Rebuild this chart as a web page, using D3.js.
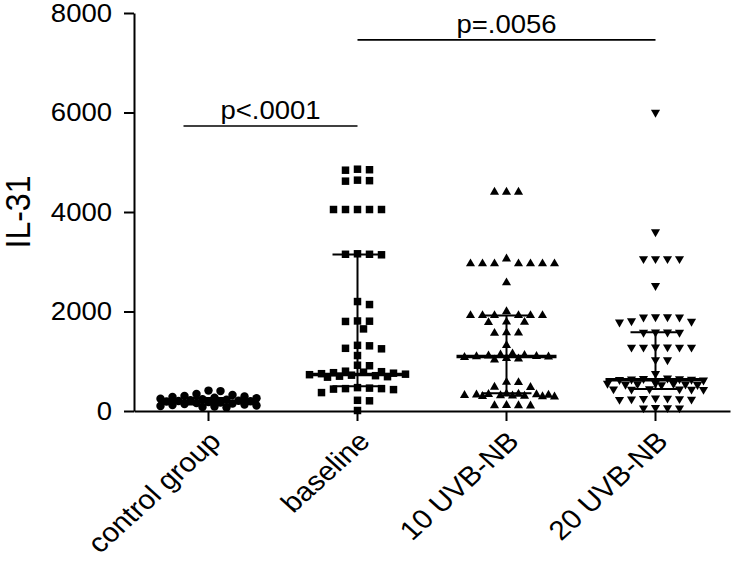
<!DOCTYPE html>
<html>
<head>
<meta charset="utf-8">
<script src="https://cdn.jsdelivr.net/npm/d3@7"></script>
<style>
  body { margin: 0; background: #fff; }
  text { font-family: "Liberation Sans", Arial, Helvetica, sans-serif; fill: #000; }
</style>
</head>
<body>
<svg id="chart" width="734" height="568"></svg>
<script>
// ---- data ----
var categories = ["control group", "baseline", "10 UVB-NB", "20 UVB-NB"];

var controlValues = [410, 400, 340, 320, 300, 290, 280, 265, 255, 245, 235, 225, 215, 205,
                     200, 195, 190, 180, 170, 160, 150, 140, 130, 120, 110, 100, 90, 80, 70];

var baselineValues = [4860, 4850, 4840, 4640, 4630, 4620, 4050, 4050, 4050, 4050, 4050,
                      3160, 3150, 3150, 3140, 2200, 2140, 1810, 1805, 1800, 1650,
                      1320, 1310, 1260, 1250, 1115, 920, 910,
                      800, 790, 780, 770, 760, 750, 740, 730, 720, 710, 700, 690, 680,
                      470, 460, 450, 450, 440, 430, 370, 215, 205, 10];

var uvb10Values = [4400, 4400, 4400, 3060, 2960, 2960, 2960, 2960, 2960, 2960, 2960, 2580,
                   2000, 1920, 1920, 1920, 1920, 1920, 1920, 1790, 1785, 1780, 1575, 1570, 1565, 1320,
                   1150, 1130, 1120, 1110, 1100, 1095, 1090, 1080, 1060, 1050, 1030,
                   580, 575, 480, 475,
                   345, 340, 335, 330, 325, 320, 315, 310, 305, 300, 295, 290, 285,
                   115, 110, 110, 105];

var uvb20Values = [6000, 3600, 3060, 3060, 3060, 3060, 2520,
                   1890, 1890, 1885, 1885, 1810, 1800, 1785, 1585, 1585, 1580, 1580,
                   1285, 1285, 1280, 1280, 1280, 1280, 1030, 1025, 750,
                   660, 650, 645, 640, 635, 630, 620,
                   560, 555, 550, 545, 540, 535, 530, 525,
                   445, 440, 440, 435, 435, 430,
                   260, 255, 250, 245, 240, 235, 230,
                   70, 65, 60, 60];

var medians = [190, 734, 1095, 627];
var lowerQuartiles = [130, 500, 358, 440];
var upperQuartiles = [260, 3146, 1920, 1584];

var yTicks = [0, 2000, 4000, 6000, 8000];

var sigLabels = ["p<.0001", "p=.0056"];
var sigLevels = [5730, 7460];
var sigFrom = [0, 1];
var sigTo = [1, 3];

// ---- layout ----
var svg = d3.select("#chart");
var SX = 1.1;          // the original picture is a bit wider than tall
var STEP = 6, GAP = 8.5, MAXOFF = 50;

var x = d3.scaleBand().domain(categories).range([134, 730]);
var y = d3.scaleLinear().domain([0, 8000]).range([411, 13]);

function center(i) { return x(categories[i]) + x.bandwidth() / 2; }

// column scatter: nearest free slot beside the centre, or the least crowded one
// when the column is full (points then overlap, as in the original)
function swarm(values, cx) {
    var placed = [];
    var nk = Math.floor(MAXOFF / STEP) * 2 + 1;
    values.slice().sort(function(a, b) { return b - a; }).forEach(function(v) {
        var py = y(v), best = null, bestD = -1;
        for (var k = 0; k < nk; k++) {
            var off = k === 0 ? 0 : (k % 2 ? 1 : -1) * Math.ceil(k / 2) * STEP;
            var px = cx + off;
            var dmin = Infinity;
            placed.forEach(function(p) {
                var dx = p.x - px, dy = p.y - py;
                dmin = Math.min(dmin, Math.sqrt(dx * dx + dy * dy));
            });
            if (dmin >= GAP) { best = px; break; }
            if (dmin > bestD) { bestD = dmin; best = px; }
        }
        placed.push({ x: best, y: py });
    });
    return placed;
}

// ---- axes ----
var yAxis = svg.append("g")
    .attr("transform", "translate(134,0)")
    .call(d3.axisLeft(y).tickValues(yTicks).tickFormat(d3.format("d"))
        .tickSize(10).tickSizeOuter(0).tickPadding(10));
yAxis.selectAll("path, line").attr("stroke", "#000").attr("stroke-width", 2);
yAxis.selectAll("text")
    .attr("font-size", 25)
    .attr("transform", "scale(" + SX + ",1)");

var xAxis = svg.append("g")
    .attr("transform", "translate(0,411)")
    .call(d3.axisBottom(x).tickSize(10).tickSizeOuter(0));
xAxis.selectAll("path, line").attr("stroke", "#000").attr("stroke-width", 2);
xAxis.selectAll("text")
    .attr("x", 0).attr("y", 0).attr("dy", 0)
    .attr("font-size", 27)
    .attr("text-anchor", "end")
    .attr("transform", "translate(14,32) scale(" + SX + ",1) rotate(-45)");

svg.append("text")
    .attr("font-size", 32)
    .attr("text-anchor", "middle")
    .attr("transform", "translate(30," + y(4000) + ") scale(" + SX + ",1) rotate(-90)")
    .text("IL-31");

// ---- points ----
var groups = [
    { values: controlValues, symbol: d3.symbolCircle, size: 56, rot: 0 },
    { values: baselineValues, symbol: d3.symbolSquare, size: 56, rot: 0 },
    { values: uvb10Values, symbol: d3.symbolTriangle, size: 36, rot: 0 },
    { values: uvb20Values, symbol: d3.symbolTriangle, size: 36, rot: 180 }
];

groups.forEach(function(g, i) {
    var pts = swarm(g.values, center(i));
    var shape = d3.symbol().type(g.symbol).size(g.size);
    svg.append("g").selectAll("path")
        .data(pts)
        .enter().append("path")
        .attr("d", shape)
        .attr("fill", "#000")
        .attr("transform", function(d) {
            return "translate(" + d.x + "," + d.y + ") rotate(" + g.rot + ")";
        });
});

// ---- median with interquartile range ----
var bars = svg.append("g").attr("stroke", "#000");
categories.forEach(function(c, i) {
    var cx = center(i);
    bars.append("line")
        .attr("x1", cx).attr("x2", cx)
        .attr("y1", y(lowerQuartiles[i])).attr("y2", y(upperQuartiles[i]))
        .attr("stroke-width", 2);
    bars.append("line")
        .attr("x1", cx - 50).attr("x2", cx + 50)
        .attr("y1", y(medians[i])).attr("y2", y(medians[i]))
        .attr("stroke-width", 3.5);
    [lowerQuartiles[i], upperQuartiles[i]].forEach(function(q) {
        bars.append("line")
            .attr("x1", cx - 25).attr("x2", cx + 25)
            .attr("y1", y(q)).attr("y2", y(q))
            .attr("stroke-width", 2);
    });
});

// ---- significance bars ----
sigLabels.forEach(function(lab, i) {
    var x1 = center(sigFrom[i]) - (i === 0 ? 25 : 0);
    var x2 = center(sigTo[i]);
    var ly = y(sigLevels[i]);
    svg.append("line")
        .attr("x1", x1).attr("x2", x2)
        .attr("y1", ly).attr("y2", ly)
        .attr("stroke", "#000").attr("stroke-width", 1.6);
    svg.append("text")
        .attr("font-size", 25)
        .attr("text-anchor", "middle")
        .attr("transform", "translate(" + (x1 + x2) / 2 + "," + (ly - 7) + ") scale(" + SX + ",1)")
        .text(lab);
});
</script>
</body>
</html>
